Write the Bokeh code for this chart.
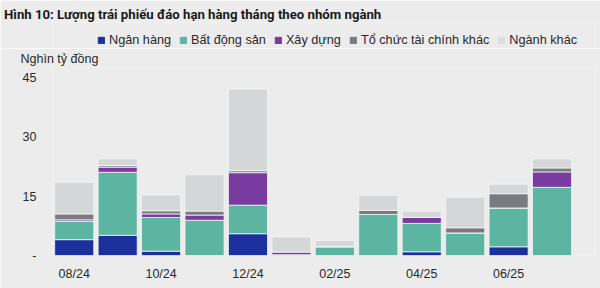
from bokeh.plotting import figure
from bokeh.layouts import column
from bokeh.models import FixedTicker, ColumnDataSource, Legend, LegendItem, Range1d
from bokeh.embed import file_html
from bokeh.resources import INLINE

months = ["08/24", "09/24", "10/24", "11/24", "12/24", "01/25",
          "02/25", "03/25", "04/25", "05/25", "06/25", "07/25"]
ngan_hang = [4.0, 5.1, 1.1, 0.0, 5.5, 0.0, 0.0, 0.0, 0.95, 0.0, 2.2, 0.0]
bat_dong_san = [4.6, 15.9, 8.5, 8.9, 7.2, 0.2, 2.2, 10.35, 7.15, 5.7, 9.8, 17.2]
xay_dung = [0.4, 1.3, 0.9, 1.3, 8.2, 0.7, 0.0, 0.0, 1.55, 0.0, 0.0, 3.9]
to_chuc_tc = [1.5, 0.4, 0.8, 1.0, 0.5, 0.0, 0.1, 1.05, 0.0, 1.3, 3.6, 1.0]
nganh_khac = [8.0, 1.7, 4.0, 9.2, 20.6, 3.8, 1.5, 3.8, 1.5, 7.7, 2.4, 2.3]
series_names = ["Ngân hàng", "Bất động sản", "Xây dựng", "Tổ chức tài chính khác", "Ngành khác"]
colors = ["#1b309d", "#5cb5a1", "#793b9f", "#7a7b80", "#d5d6d8"]
legend_colors = ["#1b309d", "#5cb5a1", "#793b9f", "#7a7b80", "#dcdddf"]
y_ticks = [0, 15, 30, 45]
title_text = "Hình 10: Lượng trái phiếu đáo hạn hàng tháng theo nhóm ngành"
unit_text = "Nghìn tỷ đồng"

keys = ["nh", "bds", "xd", "tctc", "khac"]
src = ColumnDataSource(dict(x=list(range(len(months))), nh=ngan_hang, bds=bat_dong_san,
                            xd=xay_dung, tctc=to_chuc_tc, khac=nganh_khac))

BG = "#ececec"
FONT = "Liberation Sans"
TFONT = "Roboto"
TXT = "#2a2a2a"
X_RANGE = (-0.5, len(months))

# ---- header figure: title + legend ----
TOP_H = 48
top = figure(width=600, height=TOP_H, output_backend="svg", toolbar_location=None,
             x_range=Range1d(*X_RANGE), y_range=Range1d(1000, 1001),
             x_axis_type=None, y_axis_type=None,
             min_border_left=52, min_border_right=5, min_border_top=22, min_border_bottom=0)
top.background_fill_color = BG
top.border_fill_color = BG
top.outline_line_color = None
top.xgrid.visible = False
top.ygrid.visible = False
top.title.text = title_text
top.title.align = "left"
top.title.offset = -48.5
top.title.standoff = 2
top.title.text_font = TFONT
top.title.text_font_style = "bold"
top.title.text_font_size = "13.2px"
top.title.text_color = "#1a1a1a"

# legend proxies (drawn outside the visible y-range of the header)
proxies = top.vbar_stack(keys, x="x", width=0.9, source=src, color=legend_colors)
legend = Legend(items=[LegendItem(label=n, renderers=[r]) for n, r in zip(series_names, proxies)],
                orientation="horizontal", location=(45, 1),
                background_fill_alpha=0, border_line_color=None,
                glyph_width=8, glyph_height=8, label_standoff=4, spacing=8,
                padding=0, margin=0, label_text_font=FONT, label_text_font_size="12.7px",
                label_text_color=TXT, label_height=14)
top.add_layout(legend, "center")

# ---- chart figure ----
p = figure(width=600, height=288 - TOP_H, output_backend="svg", toolbar_location=None,
           x_range=X_RANGE, y_range=(0, 47.45),
           min_border_left=52, min_border_right=5, min_border_top=18, min_border_bottom=33)
p.background_fill_color = BG
p.border_fill_color = BG
p.outline_line_color = None
p.xgrid.visible = False
p.ygrid.visible = False
p.title.text = unit_text
p.title.align = "left"
p.title.offset = -32
p.title.standoff = 3
p.title.text_font = FONT
p.title.text_font_style = "normal"
p.title.text_font_size = "12.5px"
p.title.text_color = TXT

p.vbar_stack(keys, x="x", width=0.9, source=src, color=colors,
             line_color="#f4f6f6", line_width=0.8)

p.xaxis.ticker = FixedTicker(ticks=list(range(0, len(months), 2)))
p.xaxis.major_label_overrides = {i: months[i] for i in range(0, len(months), 2)}
p.yaxis.ticker = FixedTicker(ticks=y_ticks)
p.yaxis.major_label_overrides = {0: "-"}
for ax in (p.xaxis[0], p.yaxis[0]):
    ax.axis_line_color = None
    ax.major_tick_line_color = None
    ax.minor_tick_line_color = None
    ax.major_tick_out = 0
    ax.major_tick_in = 0
    ax.major_label_text_font = FONT
    ax.major_label_text_font_size = "12.5px"
    ax.major_label_text_color = TXT
p.xaxis.major_label_standoff = 11
p.yaxis.major_label_standoff = 16

layout = column(top, p, spacing=0)
open("out.html", "w").write(file_html(layout, INLINE))
